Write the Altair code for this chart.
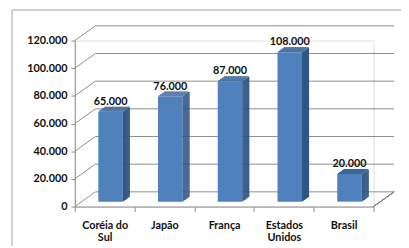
import altair as alt
import pandas as pd

paises = ["Coréia do Sul", "Japão", "França", "Estados Unidos", "Brasil"]
valores = [65000, 76000, 87000, 108000, 20000]
rotulos = ["65.000", "76.000", "87.000", "108.000", "20.000"]
y_ticks = [0, 20000, 40000, 60000, 80000, 100000, 120000]

df = pd.DataFrame({"pais": paises, "valor": valores, "rotulo": rotulos})
grid = pd.DataFrame({"v": y_ticks})

W, H = 304, 169
DX, DY = 21, -15      # wall depth (px)
dx, dy = 7, -5        # bar depth (px)
BW = 25               # bar front width
XO = 6                # bar shift inside band
FONT = "Lato"
GRID = "#8c8c8c"

FRONT = "#4F81BD"
SIDE = "#2F5584"
TOP = "#3C6699"

yscale = alt.Scale(domain=[0, 120000], nice=False, zero=True)
xscale = alt.Scale(domain=paises, paddingInner=0, paddingOuter=0)

yaxis = alt.Axis(
    values=y_ticks, title=None, grid=False,
    labelExpr="replace(format(datum.value, ','), ',', '.')",
    labelFont=FONT, labelFontSize=11, labelFontWeight="bold", labelColor="#111111",
    labelPadding=4, tickSize=4, tickColor=GRID, domainColor=GRID,
)
xaxis = alt.Axis(
    title=None, labelAngle=0, tickBand="extent", tickSize=5,
    tickColor=GRID, domainColor=GRID,
    labelExpr="datum.value == 'Coréia do Sul' ? ['Coréia do', 'Sul'] : datum.value == 'Estados Unidos' ? ['Estados', 'Unidos'] : datum.value",
    labelFont=FONT, labelFontSize=11, labelFontWeight="bold", labelColor="#111111",
    labelPadding=8, labelLineHeight=13, labelBaseline="top",
)

frame_left = alt.Chart(grid).mark_rule(color="#d0d0d0", strokeWidth=1.5).encode(
    x=alt.value(-64), y=alt.value(-31), y2=alt.value(H + 40)
)
frame_top = alt.Chart(grid).mark_rule(color="#d0d0d0", strokeWidth=1.5).encode(
    x=alt.value(-64), x2=alt.value(W + 30), y=alt.value(-31)
)

back_grid = alt.Chart(grid).mark_rule(color=GRID, strokeWidth=1, yOffset=DY).encode(
    x=alt.value(DX), x2=alt.value(W + DX),
    y=alt.Y("v:Q", scale=yscale, axis=yaxis),
)
side_diag = alt.Chart(grid).mark_rule(color=GRID, strokeWidth=1, y2Offset=DY).encode(
    x=alt.value(0), x2=alt.value(DX),
    y=alt.Y("v:Q", scale=yscale, axis=yaxis), y2="v:Q",
)
floor_diag = alt.Chart(grid).mark_rule(color=GRID, strokeWidth=1).encode(
    x=alt.value(W), x2=alt.value(W + DX), y=alt.value(H), y2=alt.value(H + DY)
)

xenc = alt.X("pais:N", scale=xscale, axis=xaxis, sort=paises)
yenc = alt.Y("valor:Q", scale=yscale, axis=yaxis)

layers = [frame_left, frame_top, back_grid, side_diag, floor_diag]

# side face (parallelogram built from thin slices)
for k in range(dx):
    off = dy + dy * (k + 0.5) / dx
    layers.append(
        alt.Chart(df).mark_bar(
            size=1.3, xOffset=XO + BW / 2 + k + 0.5, yOffset=off, y2Offset=off, color=SIDE
        ).encode(x=xenc, y=yenc)
    )

# top face
for k in range(-dy):
    layers.append(
        alt.Chart(df).mark_bar(
            size=BW, xOffset=XO + (k + 0.5) * dx / (-dy),
            yOffset=dy - (k + 1.15), y2Offset=dy - k, color=TOP
        ).encode(x=xenc, y=yenc, y2="valor:Q")
    )

# front face
layers.append(
    alt.Chart(df).mark_bar(size=BW, xOffset=XO, yOffset=dy, y2Offset=dy, color=FRONT)
    .encode(x=xenc, y=yenc)
)

labels = alt.Chart(df).mark_text(
    font=FONT, fontSize=11, fontWeight="bold", color="#111111",
    baseline="alphabetic", xOffset=XO, yOffset=-12,
).encode(x=xenc, y=yenc, text="rotulo:N")
layers.append(labels)

chart = alt.layer(*layers).properties(
    width=W, height=H,
    autosize=alt.AutoSizeParams(type="none"),
    padding={"left": 68, "top": 31, "right": 28, "bottom": 38},
).configure_view(stroke=None).configure(background="white")

chart.save("out.html", embed_options={"renderer": "svg", "actions": False})
